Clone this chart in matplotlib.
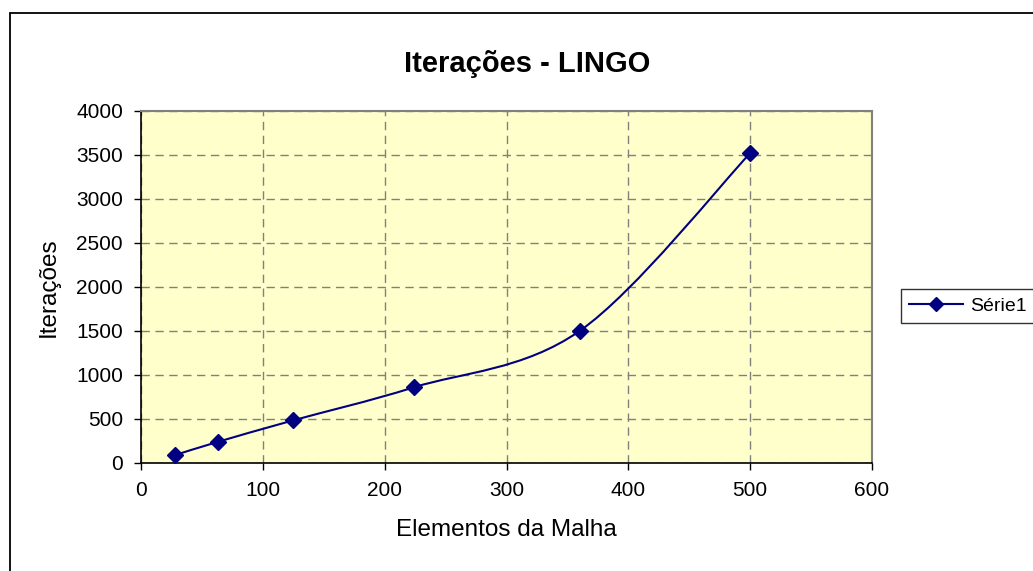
import matplotlib
matplotlib.use("Agg")
import matplotlib.pyplot as plt
from matplotlib.path import Path
from matplotlib.patches import PathPatch, Rectangle
from matplotlib.lines import Line2D

plt.rcParams['font.family'] = ['Liberation Sans', 'DejaVu Sans']

# Mesh size vs. LINGO iteration count
elementos = [28, 63, 125, 224, 360, 500]
iteracoes = [90, 240, 485, 860, 1500, 3520]
x_ticks = [0, 100, 200, 300, 400, 500, 600]
y_ticks = [0, 500, 1000, 1500, 2000, 2500, 3000, 3500, 4000]
series_name = "Série1"

W, H = 1033, 571
fig = plt.figure(figsize=(W / 100, H / 100), dpi=100)

# outer chart frame (runs off the right and bottom edges)
fig.patches.append(Rectangle((10 / W, -0.05), 1.2, (H - 13) / H + 0.05,
                             transform=fig.transFigure, fill=False,
                             edgecolor='#000000', linewidth=1.3))

left, right, top, bottom = 141, 872, 111, 463
ax = fig.add_axes([left / W, (H - bottom) / H, (right - left) / W, (bottom - top) / H])
ax.set_facecolor('#FFFFCC')
ax.set_xlim(0, 600)
ax.set_ylim(0, 4000)
ax.set_xticks(x_ticks)
ax.set_yticks(y_ticks)
ax.tick_params(labelsize=15, length=5, width=1, direction='out', pad=8, colors='black')
ax.grid(True, color='#808080', linestyle=(0, (6, 4)), linewidth=1)
ax.set_axisbelow(True)
for side in ('top', 'right'):
    ax.spines[side].set_color('#808080')
    ax.spines[side].set_linewidth(1.5)
for side in ('left', 'bottom'):
    ax.spines[side].set_color('#000000')
    ax.spines[side].set_linewidth(1.2)

# smoothed line: cubic Bezier segments with Catmull-Rom control points
n = len(elementos)
pts = list(zip(elementos, iteracoes))
verts = [pts[0]]
codes = [Path.MOVETO]
for i in range(n - 1):
    p0 = pts[i - 1] if i > 0 else pts[i]
    p1 = pts[i]
    p2 = pts[i + 1]
    p3 = pts[i + 2] if i + 2 < n else pts[i + 1]
    c1 = (p1[0] + (p2[0] - p0[0]) / 6, p1[1] + (p2[1] - p0[1]) / 6)
    c2 = (p2[0] - (p3[0] - p1[0]) / 6, p2[1] - (p3[1] - p1[1]) / 6)
    verts += [c1, c2, p2]
    codes += [Path.CURVE4] * 3
ax.add_patch(PathPatch(Path(verts, codes), fill=False, edgecolor='#000080',
                       linewidth=1.5, zorder=3))
ax.plot(elementos, iteracoes, linestyle='none', marker='D', markersize=8,
        color='#000080', zorder=4)

ax.set_xlabel("Elementos da Malha", fontsize=17.5, labelpad=14)
ax.set_ylabel("Iterações", fontsize=17.5, labelpad=12)
fig.text(527 / W, 1 - 64 / H, "Iterações - LINGO", fontsize=21, fontweight='bold',
         ha='center', va='center')

handle = Line2D([], [], color='#000080', marker='D', markersize=7, linewidth=1.5)
leg = fig.legend([handle], [series_name], loc='center left',
                 bbox_to_anchor=(901 / W, 1 - 306 / H), fontsize=14,
                 frameon=True, fancybox=False, edgecolor='black',
                 handlelength=2.8, borderpad=0.4, handletextpad=0.35,
                 borderaxespad=0)
leg.get_frame().set_linewidth(1.0)

fig.savefig("out.png", dpi=100)
